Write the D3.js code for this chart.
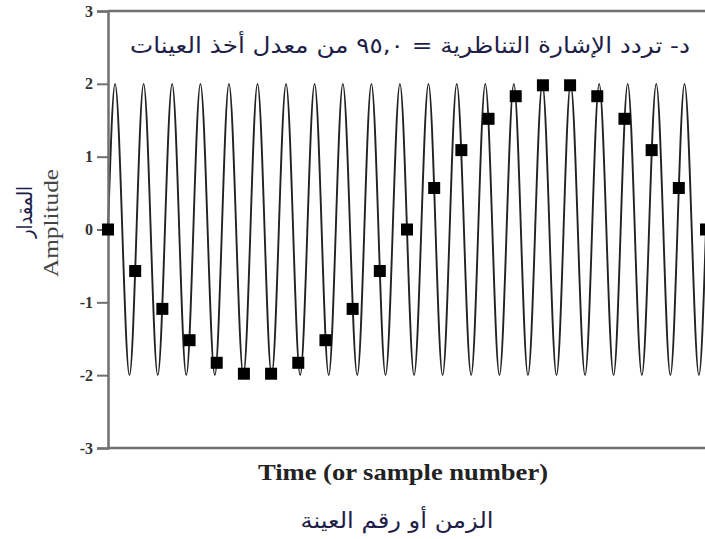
<!DOCTYPE html>
<html>
<head>
<meta charset="utf-8">
<script src="https://cdn.jsdelivr.net/npm/d3@7"></script>
<style>
  html, body { margin: 0; padding: 0; background: #fff; }
  svg { display: block; }
</style>
</head>
<body>
<svg id="chart" width="705" height="539"></svg>
<script>
// ---- data ----
const sampleIndex = [0,1,2,3,4,5,6,7,8,9,10,11,12,13,14,15,16,17,18,19,20,21,22];
const sampleValues = [0,-0.57,-1.09,-1.52,-1.83,-1.98,-1.98,-1.83,-1.52,-1.09,-0.57,0,
                      0.57,1.09,1.52,1.83,1.98,1.98,1.83,1.52,1.09,0.57,0];
// positions (in sample units) of the analog wave's crests and troughs
const crestTimes  = [0.26,1.31,2.36,3.40,4.45,5.50,6.55,7.60,8.64,9.69,10.74,11.79,12.83,13.88,14.93,15.98,17.02,18.07,19.12,20.17,21.21];
const troughTimes = [0.79,1.83,2.88,3.93,4.98,6.02,7.07,8.12,9.17,10.21,11.26,12.31,13.36,14.40,15.45,16.50,17.55,18.60,19.64,20.69,21.74];
const crestValue = 2, troughValue = -2;
const waveStart = [0, 0], waveEnd = [22, 0];
const yTicks = [-3,-2,-1,0,1,2,3];
const titleText = "د- تردد الإشارة التناظرية = ٩٥,٠ من معدل أخذ العينات";
const xLabel = "Time (or sample number)";
const xLabelAr = "الزمن أو رقم العينة";
const yLabel = "Amplitude";
const yLabelAr = "المقدار";

// ---- layout ----
const svg = d3.select("#chart");
const mLeft = 108, mRight = 706, mTop = 11, mBottom = 448;
const x = d3.scaleLinear().domain([0, 22]).range([mLeft, mRight]);
const y = d3.scaleLinear().domain([-3, 3]).range([mBottom, mTop]);

const axisColor = "#707070";
const arColor = "#1e1e48";

// wave points
const wave = [waveStart];
crestTimes.forEach((c, i) => {
  wave.push([c, crestValue]);
  wave.push([troughTimes[i], troughValue]);
});
wave.push(waveEnd);

const line = d3.line()
  .x(d => x(d[0]))
  .y(d => y(d[1]))
  .curve(d3.curveMonotoneX);

svg.append("path")
  .datum(wave)
  .attr("d", line)
  .attr("fill", "none")
  .attr("stroke", "#222")
  .attr("stroke-width", 1.9);

// frame lines (top, bottom)
svg.append("line").attr("x1", mLeft).attr("x2", 705).attr("y1", mTop).attr("y2", mTop)
  .attr("stroke", axisColor).attr("stroke-width", 2.5);
svg.append("line").attr("x1", mLeft).attr("x2", 705).attr("y1", mBottom).attr("y2", mBottom)
  .attr("stroke", axisColor).attr("stroke-width", 2.5);

// left axis
const yAxis = d3.axisLeft(y).tickValues(yTicks).tickSize(11).tickPadding(4).tickFormat(d3.format("d"));
const gy = svg.append("g").attr("transform", `translate(${mLeft},0)`).call(yAxis);
gy.select(".domain").attr("stroke", axisColor).attr("stroke-width", 2.5);
gy.selectAll(".tick line").attr("stroke", axisColor).attr("stroke-width", 2);
gy.selectAll(".tick text")
  .attr("font-family", "'Liberation Serif', serif")
  .attr("font-size", 16)
  .attr("font-weight", "bold")
  .attr("fill", "#333")
  .text(d => d < 0 ? "-" + Math.abs(d) : d);

// title
svg.append("text")
  .attr("x", 410).attr("y", 53)
  .attr("text-anchor", "middle")
  .attr("direction", "rtl")
  .attr("font-family", "'DejaVu Sans', sans-serif")
  .attr("font-size", 22)
  .attr("textLength", 560)
  .attr("lengthAdjust", "spacingAndGlyphs")
  .attr("fill", arColor)
  .text(titleText);

// sample markers
const sq = 12;
svg.append("g").selectAll("rect")
  .data(sampleIndex)
  .join("rect")
  .attr("x", (d) => x(d) - sq / 2)
  .attr("y", (d, i) => y(sampleValues[i]) - sq / 2)
  .attr("width", sq).attr("height", sq)
  .attr("fill", "#000");

// axis labels
svg.append("text")
  .attr("x", 403).attr("y", 480)
  .attr("text-anchor", "middle")
  .attr("font-family", "'Liberation Serif', serif")
  .attr("font-size", 23)
  .attr("font-weight", "bold")
  .attr("textLength", 290)
  .attr("lengthAdjust", "spacingAndGlyphs")
  .attr("fill", "#222")
  .text(xLabel);

svg.append("text")
  .attr("x", 397).attr("y", 528)
  .attr("text-anchor", "middle")
  .attr("direction", "rtl")
  .attr("font-family", "'DejaVu Sans', sans-serif")
  .attr("font-size", 22)
  .attr("textLength", 193)
  .attr("lengthAdjust", "spacingAndGlyphs")
  .attr("fill", arColor)
  .text(xLabelAr);

svg.append("text")
  .attr("transform", "translate(58,223) rotate(-90)")
  .attr("text-anchor", "middle")
  .attr("font-family", "'Liberation Serif', serif")
  .attr("font-size", 22)
  .attr("textLength", 108)
  .attr("lengthAdjust", "spacingAndGlyphs")
  .attr("fill", "#444")
  .text(yLabel);

svg.append("text")
  .attr("transform", "translate(32,212) rotate(-90)")
  .attr("text-anchor", "middle")
  .attr("direction", "rtl")
  .attr("font-family", "'DejaVu Sans', sans-serif")
  .attr("font-size", 21)
  .attr("textLength", 52)
  .attr("lengthAdjust", "spacingAndGlyphs")
  .attr("fill", arColor)
  .text(yLabelAr);
</script>
</body>
</html>
